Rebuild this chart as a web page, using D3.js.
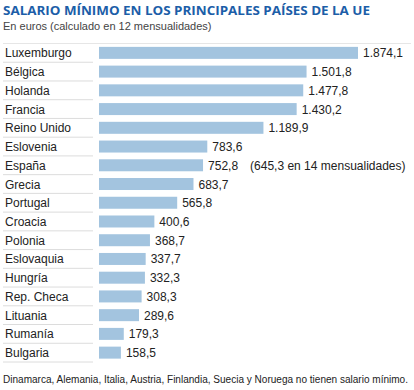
<!DOCTYPE html>
<html>
<head>
<meta charset="utf-8">
<script src="https://cdn.jsdelivr.net/npm/d3@7"></script>
<style>
  body { margin: 0; background: #fff; }
  text { font-family: "Liberation Sans", Arial, sans-serif; }
</style>
</head>
<body>
<script>
var countries = ["Luxemburgo", "Bélgica", "Holanda", "Francia", "Reino Unido", "Eslovenia",
                 "España", "Grecia", "Portugal", "Croacia", "Polonia", "Eslovaquia",
                 "Hungría", "Rep. Checa", "Lituania", "Rumanía", "Bulgaria"];
var salaries = [1874.1, 1501.8, 1477.8, 1430.2, 1189.9, 783.6, 752.8, 683.7, 565.8,
                400.6, 368.7, 337.7, 332.3, 308.3, 289.6, 179.3, 158.5];
var notes = {"España": "(645,3 en 14 mensualidades)"};

var title = "SALARIO MÍNIMO EN LOS PRINCIPALES PAÍSES DE LA UE";
var subtitle = "En euros (calculado en 12 mensualidades)";
var footer = "Dinamarca, Alemania, Italia, Austria, Finlandia, Suecia y Noruega no tienen salario mínimo.";

function init(){
    var w = 414, h = 390;
    var fmt = d3.formatLocale({decimal: ",", thousands: ".", grouping: [3], currency: ["", "€"]}).format(",.1f");

    var svg = d3.select("body").append("svg")
        .attr("width", w)
        .attr("height", h);

    svg.append("text")
        .attr("x", 3).attr("y", 15)
        .attr("fill", "#1c5ea8")
        .style("font-family", "'Open Sans', 'DejaVu Sans', sans-serif")
        .style("font-weight", "bold")
        .style("font-size", "13px")
        .attr("textLength", 367)
        .attr("lengthAdjust", "spacingAndGlyphs")
        .text(title);

    svg.append("text")
        .attr("x", 3).attr("y", 30)
        .attr("fill", "#444")
        .style("font-size", "11px")
        .text(subtitle);

    var yScale = d3.scaleBand()
        .domain(countries)
        .range([43.5, 362])
        .paddingInner(0.36)
        .paddingOuter(0.18);

    var xScale = d3.scaleLinear()
        .domain([0, 1874.1])
        .range([99, 358]);

    var step = yScale.step();

    // top rule
    svg.append("line")
        .attr("x1", 3).attr("x2", 411)
        .attr("y1", 43.5).attr("y2", 43.5)
        .attr("stroke", "#e6e6e6");

    // separators under the labels
    svg.selectAll("line.sep")
        .data(countries)
        .enter()
        .append("line")
        .attr("class", "sep")
        .attr("x1", 3).attr("x2", 93)
        .attr("y1", function(d, i){ return 43.5 + (i + 1) * step; })
        .attr("y2", function(d, i){ return 43.5 + (i + 1) * step; })
        .attr("stroke", "#dcdcdc");

    svg.selectAll("rect")
        .data(salaries)
        .enter()
        .append("rect")
        .attr("x", xScale(0))
        .attr("y", function(d, i){ return yScale(countries[i]); })
        .attr("width", function(d){ return xScale(d) - xScale(0); })
        .attr("height", yScale.bandwidth())
        .attr("fill", "#a3c4df");

    svg.selectAll("text.lab")
        .data(countries)
        .enter()
        .append("text")
        .attr("class", "lab")
        .attr("x", 5)
        .attr("y", function(d){ return yScale(d) + yScale.bandwidth() / 2 + 4.5; })
        .attr("fill", "#222")
        .style("font-size", "12px")
        .text(function(d){ return d; });

    svg.selectAll("text.val")
        .data(salaries)
        .enter()
        .append("text")
        .attr("class", "val")
        .attr("x", function(d){ return xScale(d) + 5; })
        .attr("y", function(d, i){ return yScale(countries[i]) + yScale.bandwidth() / 2 + 4.5; })
        .attr("fill", "#222")
        .style("font-size", "12px")
        .text(function(d, i){
            var n = notes[countries[i]];
            return fmt(d) + (n ? "\u2002\u2002" + n : "");
        });

    svg.append("text")
        .attr("x", 3).attr("y", 383)
        .attr("fill", "#222")
        .style("font-size", "10px")
        .attr("textLength", 405)
        .attr("lengthAdjust", "spacingAndGlyphs")
        .text(footer);
}

window.onload = init;
</script>
</body>
</html>
